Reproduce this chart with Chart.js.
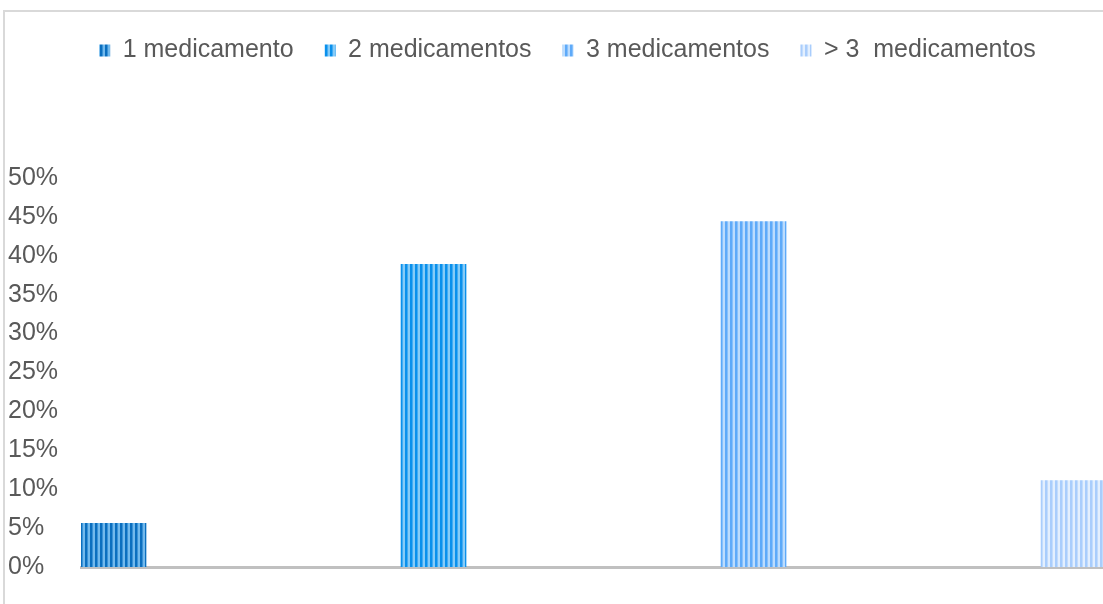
<!DOCTYPE html>
<html lang="pt">
<head>
    <meta charset="UTF-8">
    <title>Medicamentos</title>
    <script src="https://cdn.jsdelivr.net/npm/chart.js"></script>
    <style>
        body {
            margin: 0;
            background: #fff;
        }
        #frame {
            position: absolute;
            left: 3px;
            top: 10px;
            width: 1200px;
            height: 700px;
            border-top: 2px solid #d9d9d9;
            border-left: 2px solid #d9d9d9;
        }
        #wrap {
            position: absolute;
            left: 0;
            top: 0;
            width: 1103px;
            height: 604px;
        }
    </style>
</head>
<body>
    <div id="frame"></div>
    <div id="wrap"><canvas id="chart"></canvas></div>

    <script>
        const categories = ['1 medicamento', '2 medicamentos', '3 medicamentos', '>\u00a03  medicamentos'];
        const values = [5.6, 38.9, 44.4, 11.1];
        const yTicks = [0, 5, 10, 15, 20, 25, 30, 35, 40, 45, 50];

        // stripe colours per series: [dark, mid, light]
        const stripes = [
            ['#0b6fbf', '#3a92d6', '#72b9ec'],
            ['#0a90ec', '#41abf2', '#86cbf7'],
            ['#5eaaf9', '#86c0fb', '#bcdcfd'],
            ['#a9cdfc', '#c2dcfd', '#e3effe']
        ];

        function makePattern(c) {
            const cv = document.createElement('canvas');
            cv.width = 5;
            cv.height = 4;
            const g = cv.getContext('2d');
            g.fillStyle = c[0]; g.fillRect(0, 0, 2, 4);
            g.fillStyle = c[1]; g.fillRect(2, 0, 1, 4);
            g.fillStyle = c[2]; g.fillRect(3, 0, 2, 4);
            return g.createPattern(cv, 'repeat');
        }

        // more room under the legend, and nudge it right a bit
        const legendSpace = {
            id: 'legendSpace',
            beforeLayout(chart) {
                const lg = chart.legend;
                if (lg && !lg._spaced) {
                    const fit = lg.fit;
                    lg.fit = function () { fit.call(this); this.height += 105; };
                    lg._spaced = true;
                }
            },
            afterLayout(chart) {
                if (chart.legend) chart.legend.left += 24;
            }
        };

        const datasets = categories.map((name, i) => ({
            label: name,
            data: [{ x: i, y: values[i] }],
            backgroundColor: makePattern(stripes[i]),
            borderWidth: 0,
            barThickness: 65,
            grouped: false
        }));

        new Chart(document.getElementById('chart'), {
            type: 'bar',
            data: { datasets: datasets },
            plugins: [legendSpace],
            options: {
                responsive: true,
                maintainAspectRatio: false,
                animation: false,
                layout: { padding: { left: 8, right: 0, top: 7, bottom: 37 } },
                plugins: {
                    legend: {
                        position: 'top',
                        labels: {
                            boxWidth: 11,
                            boxHeight: 12,
                            padding: 31,
                            color: '#595959',
                            font: { family: 'Liberation Sans, Arial, sans-serif', size: 25 }
                        }
                    },
                    tooltip: { enabled: false }
                },
                scales: {
                    x: {
                        type: 'linear',
                        offset: false,
                        min: -0.1016,
                        max: 3.092,
                        grid: { display: false, offset: false },
                        ticks: { display: false },
                        border: { display: true, color: '#c0c0c0', width: 3 },
                        afterFit(scale) { scale.height = 0; }
                    },
                    y: {
                        min: 0,
                        max: 50,
                        grid: { display: false },
                        border: { display: false },
                        afterBuildTicks(scale) { scale.ticks = yTicks.map(v => ({ value: v })); },
                        afterFit(scale) { scale.width = 73; },
                        ticks: {
                            crossAlign: 'far',
                            padding: 0,
                            color: '#595959',
                            font: { family: 'Liberation Sans, Arial, sans-serif', size: 25 },
                            callback: v => v + '%'
                        }
                    }
                }
            }
        });
    </script>
</body>
</html>
